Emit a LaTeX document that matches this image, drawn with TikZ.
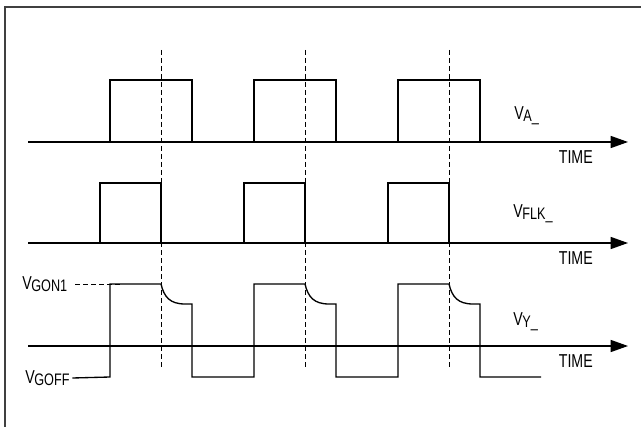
\documentclass[tikz,border=0pt]{standalone}
\usepackage{fontspec}
\setmainfont{Liberation Sans}[FakeStretch=0.76]
\usetikzlibrary{positioning,arrows.meta}

\tikzset{
  wave/.style={line width=1pt, line join=miter},
  axis/.style={line width=1pt, -{Triangle[length=13pt,width=9pt]}},
  guide/.style={line width=0.7pt, dash pattern=on 3.5pt off 2.5pt},
  lbl/.style={inner sep=0pt, font=\fontsize{14}{16}\selectfont},
}
\newcommand{\sig}[1]{V\kern-0.3pt\raisebox{-1.5pt}{\fontsize{12.5}{14}\selectfont #1}}

\begin{document}
\begin{tikzpicture}[x=0.75pt,y=-0.75pt]

  \useasboundingbox (0,0) rectangle (641,427);
  \fill[white] (0,0) rectangle (641,427);
  \draw[line width=1.3pt, black!75] (5,440) -- (5,7) -- (660,7);

  % guide lines
  \foreach \g in {161,305,449}
    \draw[guide] (\g,50) -- (\g,368);

  % V_A
  \draw[axis] (28,142) -- (628,142);
  \foreach \s in {0,144,288}
    \draw[wave] (110+\s,142) -- (110+\s,80) -- (192+\s,80) -- (192+\s,142);
  \node[lbl, anchor=west] (va) at (514,116) {\sig{A\_}};
  \node[lbl, anchor=north east] (ta) at (593,150) {TIME};

  % V_FLK
  \draw[axis] (28,243) -- (628,243);
  \foreach \s in {0,144,288}
    \draw[wave] (100+\s,243) -- (100+\s,183) -- (161+\s,183) -- (161+\s,243);
  \node[lbl, anchor=west] (vflk) at (513,214) {\sig{FLK\_}};
  \node[lbl, anchor=north east] (tflk) at (593,251) {TIME};

  % V_Y
  \draw[axis] (28,346) -- (628,346);
  \node[lbl, anchor=west] (vy) at (513,322) {\sig{Y\_}};
  \node[lbl, anchor=north east] (ty) at (593,354) {TIME};
  \node[lbl, anchor=west] (von) at (22,284) {\sig{GON1}};
  \node[lbl, anchor=west] (voff) at (25,378) {\sig{GOFF}};
  \draw[guide] (von.east) ++(6pt,0) -- (123,284);
  \draw[wave] (voff.east) ++(2pt,0) coordinate (w0) -- (110,377)
    \foreach \s in {0,144,288} {
      -- (110+\s,284) -- (161+\s,284)
      .. controls (164+\s,297) and (170+\s,304) .. (185+\s,304)
      -- (192+\s,304) -- (192+\s,377)
      \ifnum\s<288 -- (254+\s,377)\fi
    } -- (541,377);

\end{tikzpicture}
\end{document}
